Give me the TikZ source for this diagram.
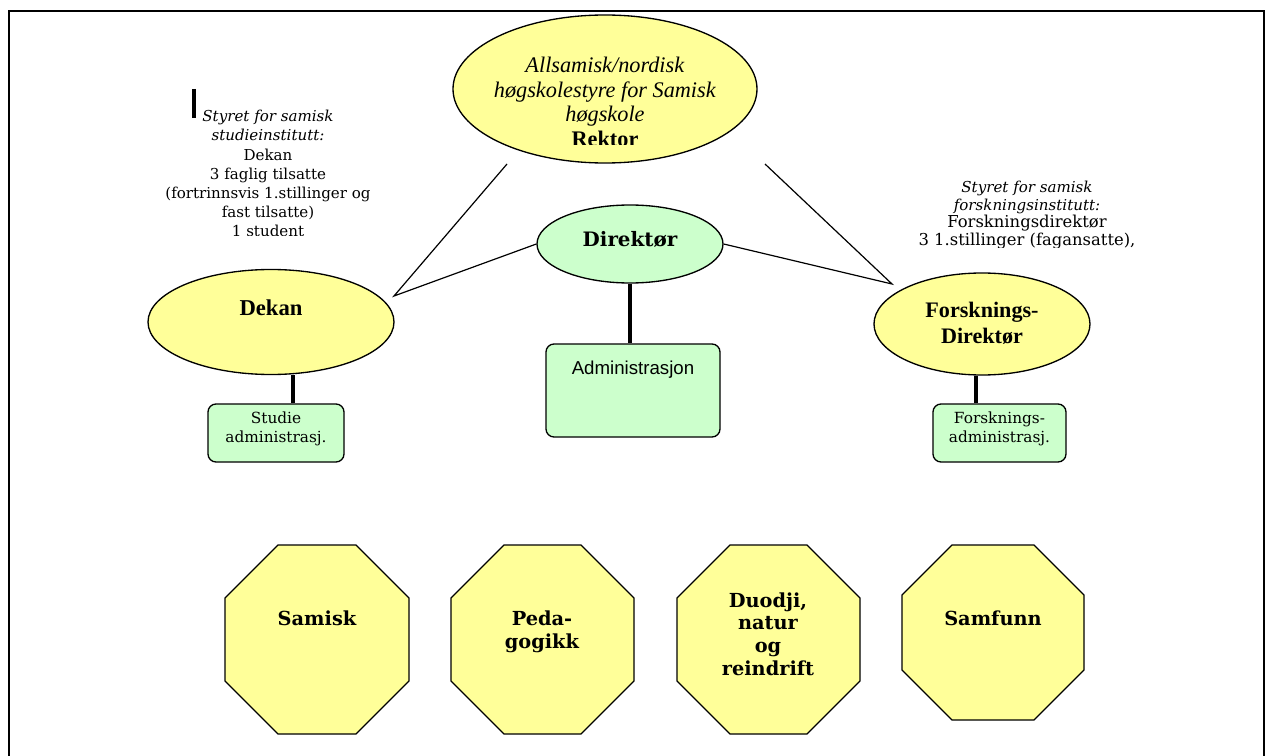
\documentclass[tikz,border=0pt]{standalone}
\usepackage{fontspec}
\setmainfont{DejaVu Serif}
\newfontfamily\palfont{Liberation Serif}
\newfontfamily\arialfont{Liberation Sans}
\usetikzlibrary{shapes.geometric}
\definecolor{ylw}{HTML}{FFFF99}
\definecolor{grn}{HTML}{CCFFCC}
\newcommand\myoct[5]{\draw[octo] ({#1+#5},#2) -- ({#3-#5},#2) -- (#3,{#2+#5}) -- (#3,{#4-#5}) -- ({#3-#5},#4) -- ({#1+#5},#4) -- (#1,{#4-#5}) -- (#1,{#2+#5}) -- cycle;}
\begin{document}
\begin{tikzpicture}[x=0.75pt,y=-0.75pt,
  yell/.style={ellipse, draw, line width=1pt, fill=ylw, inner sep=0pt},
  gell/.style={ellipse, draw, line width=1pt, fill=grn, inner sep=0pt},
  gbox/.style={rectangle, rounded corners=6pt, draw, line width=1pt, fill=grn, inner sep=0pt},
  octo/.style={draw, line width=1pt, fill=ylw},
  stem/.style={line width=3pt},
  conn/.style={line width=0.9pt},
  txt/.style={inner sep=0pt, align=center},
  octtxt/.style={txt, font=\bfseries\fontsize{14.5}{17}\selectfont}
]
\useasboundingbox (0,0) rectangle (1265,756);
\draw[line width=1.5pt] (9,756) -- (9,11) -- (1264,11) -- (1264,756);

% connectors
\coordinate (rL) at (507,164);
\coordinate (tipL) at (394,296);
\coordinate (rR) at (765,164);
\coordinate (tipR) at (892,284);

% ellipses
\node[yell, minimum width=228pt, minimum height=111pt] (rektor) at (605,89) {};
\begin{scope}
\clip (453,14) rectangle (757,145);
\node[txt, font=\palfont\fontsize{16.7}{18.4}\selectfont] (rektortxt) at (605,102)
  {\textit{Allsamisk/nordisk}\\\textit{høgskolestyre for Samisk}\\\textit{høgskole}\\\textbf{Rektor}};
\end{scope}

\node[yell, minimum width=184.5pt, minimum height=78.75pt] (dekan) at (271,322) {};
\node[txt, font=\palfont\bfseries\fontsize{17}{19}\selectfont] (dekantxt) at (271,308) {Dekan};

\node[gell, minimum width=139.5pt, minimum height=58.5pt] (direktor) at (630,244) {};
\node[txt, font=\bfseries\fontsize{14.9}{16}\selectfont] (direktortxt) at (630,239) {Direktør};

\node[yell, minimum width=162pt, minimum height=76.5pt] (forsk) at (982,324) {};
\node[txt, font=\palfont\bfseries\fontsize{16.6}{19.5}\selectfont] (forsktxt) at (982,323) {Forsknings-\\Direktør};

\draw[conn] (rL) -- (tipL) -- (direktor.west);
\draw[conn] (rR) -- (tipR) -- (direktor.east);

% boxes
\coordinate (sL) at (293,0);
\coordinate (sR) at (976,0);
\node[gbox, minimum width=102pt, minimum height=43.5pt] (studie) at (276,433) {};
\node[gbox, minimum width=130.5pt, minimum height=69.75pt] (admin) at (633,390.5) {};
\node[gbox, minimum width=99.75pt, minimum height=43.5pt] (forskbox) at (999.5,433) {};
\draw[stem] (dekan.south -| sL) -- (studie.north -| sL);
\draw[stem] (direktor.south) -- (admin.north -| direktor.south);
\draw[stem] (forsk.south -| sR) -- (forskbox.north -| sR);

\node[txt, font=\fontsize{11.5}{14.25}\selectfont] (studietxt) at (276,428.5) {Studie\\administrasj.};
\node[txt, font=\arialfont\fontsize{14}{16}\selectfont] (admintxt) at (633,370) {Administrasjon};
\node[txt, font=\fontsize{11.5}{14.25}\selectfont] (forskboxtxt) at (999.5,428.5) {Forsknings-\\administrasj.};

% side texts
\draw[line width=3pt] (194,89) -- (194,118);
\begin{scope}
\clip (120,100) rectangle (420,236);
\node[txt, anchor=north, font=\fontsize{11.3}{14.4}\selectfont] (styretL) at (268,110)
  {\textit{Styret for samisk}\\\textit{studieinstitutt:}\\Dekan\\3 faglig tilsatte\\(fortrinnsvis 1.stillinger og\\fast tilsatte)\\1 student};
\end{scope}
\begin{scope}
\clip (900,170) rectangle (1180,248);
\node[txt, anchor=north, font=\fontsize{11.3}{13.2}\selectfont] (styretR) at (1027,181)
  {\textit{Styret for samisk}\\\textit{forskningsinstitutt:}\\{\fontsize{12.3}{13.6}\selectfont Forskningsdirektør}\\{\fontsize{12.3}{13.6}\selectfont 3 1.stillinger (fagansatte),}};
\end{scope}

% octagons
\myoct{225}{545}{409}{734}{53}
\myoct{451}{545}{634}{734}{53}
\myoct{677}{545}{860}{734}{53}
\myoct{902}{545}{1084}{720}{50}
\node[octtxt] (samisk) at (317,618) {Samisk};
\node[octtxt] (peda) at (542,631.5) {Peda-\\gogikk};
\node[octtxt] (duodji) at (768,634) {Duodji,\\natur\\og\\reindrift};
\node[octtxt] (samfunn) at (993,618) {Samfunn};
\end{tikzpicture}
\end{document}
